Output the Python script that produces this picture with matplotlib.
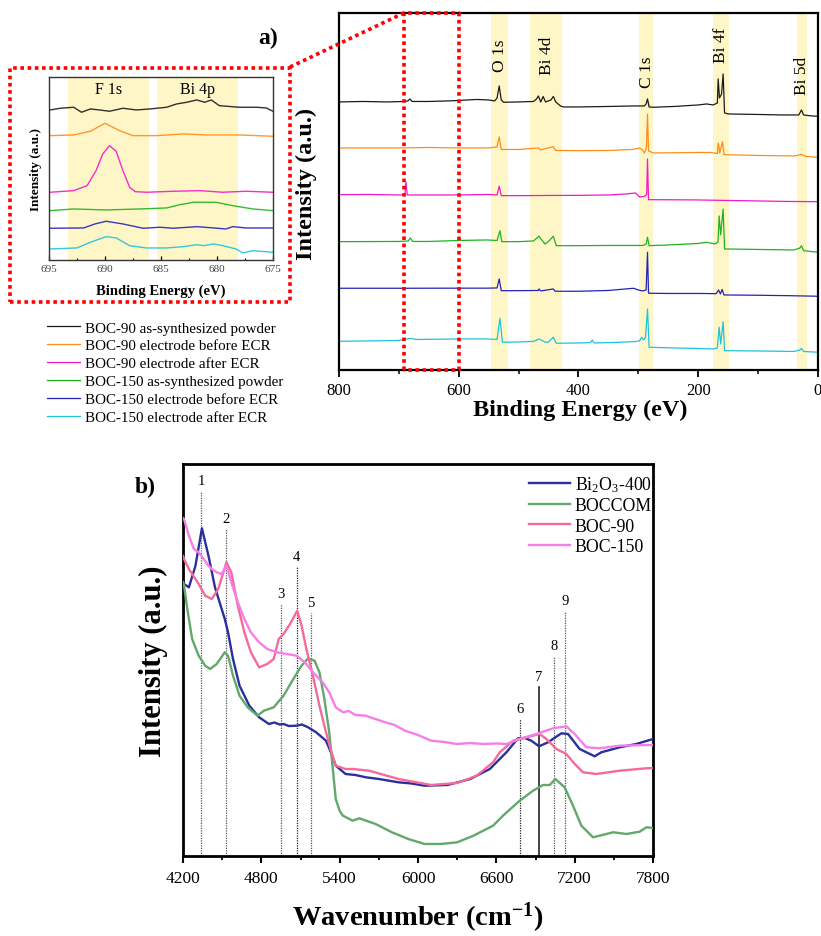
import matplotlib
matplotlib.use("Agg")
import matplotlib.pyplot as plt
from matplotlib.lines import Line2D
from matplotlib.patches import Rectangle
from matplotlib.ticker import MultipleLocator

plt.rcParams['font.family'] = ['Liberation Serif', 'DejaVu Serif']
plt.rcParams['mathtext.fontset'] = 'custom'
plt.rcParams['mathtext.rm'] = 'Liberation Serif'
plt.rcParams['mathtext.it'] = 'Liberation Serif:italic'
plt.rcParams['mathtext.bf'] = 'Liberation Serif:bold'

# ---------------- (a) XPS survey spectra ----------------
survey_labels = ["BOC-90 as-synthesized powder", "BOC-90 electrode before ECR",
                 "BOC-90 electrode after ECR", "BOC-150 as-synthesized powder",
                 "BOC-150 electrode before ECR", "BOC-150 electrode after ECR"]
survey_colors = ["#1a1a1a", "#ff8c1a", "#f019c8", "#1eb41e", "#2323b4", "#1ec3dc"]

boc90_powder_be = [800, 760, 720, 690, 685, 681.5, 678, 650, 620, 600, 570, 550, 540, 536, 532.4,
                   529, 525, 500, 475, 470, 467, 463, 459, 455, 446, 442, 438, 430, 425, 400,
                   350, 310, 290, 287, 284.7, 282, 275, 240, 200, 186, 175, 168, 166.7, 164.5,
                   161, 158.4, 156, 150, 100, 60, 32, 27.6, 24, 10, 0]
boc90_powder_int = [268, 268.5, 268, 268.5, 269, 271, 268.5, 268.5, 269, 269.5, 270.5, 270, 269,
                    272, 284, 270, 267.7, 268, 268.5, 271, 274, 268, 273.5, 268, 270, 273.5, 268,
                    264, 263, 263, 263.5, 264, 264, 266, 271, 263, 262.7, 263.5, 265, 266, 265,
                    267, 291, 272, 276, 296, 257, 256, 255.5, 255, 255, 260, 255, 254, 253.7]

boc90_before_be = [800, 700, 650, 600, 550, 536, 532.4, 529, 500, 467, 464, 442, 438, 400, 350,
                   310, 298, 293, 290, 286.5, 284.7, 283, 275, 200, 180, 168, 166.5, 164, 159.5,
                   157, 100, 40, 27.6, 20, 0]
boc90_before_int = [222, 222, 222.5, 222, 222, 223, 233, 220.5, 220.5, 222, 220, 223.3, 219.5,
                    219.3, 219.5, 220.5, 222, 220, 217, 222, 256, 219, 217, 217.5, 217.5, 216.5,
                    227, 217, 228.3, 215.3, 214.5, 214, 215.5, 213.5, 212.7]

boc90_after_be = [800, 750, 700, 690, 688.1, 686, 650, 600, 550, 536, 532.4, 529, 500, 450, 400,
                  350, 320, 305, 298, 290, 286, 284.7, 283, 250, 200, 150, 100, 50, 0]
boc90_after_int = [175.3, 175.5, 175, 175, 188, 175, 175, 175, 175.5, 175, 183.7, 174.3, 174.3,
                   174.5, 174.6, 175, 176, 177, 173, 173.5, 175.5, 211, 170.3, 170.2, 170, 169.5,
                   169, 168.5, 168.3]

boc150_powder_be = [800, 700, 684, 681, 677, 650, 600, 553, 536, 531.2, 528, 500, 475, 466, 456,
                    451, 442, 437, 400, 350, 300, 292, 287, 284.7, 282, 250, 200, 186, 172, 167,
                    165, 162.5, 158.4, 156, 100, 40, 30, 27.6, 24, 0]
boc150_powder_int = [128.3, 128.5, 129, 132, 128.5, 128.5, 129.5, 130, 129.5, 139.3, 128.3, 128.3,
                     129, 133.7, 126, 128, 133.7, 124.3, 124.3, 124.5, 124.5, 124.5, 126, 132.7,
                     124.3, 125, 126.5, 127.7, 126, 128, 154, 135, 161, 121, 120.5, 120, 122,
                     124.3, 119.3, 117.7]

boc150_before_be = [800, 700, 600, 553, 536, 532.4, 529, 500, 467, 466, 463, 442, 439, 400, 350,
                    308, 300, 293, 287, 284.7, 283, 250, 200, 170, 166, 163, 160, 157, 100, 50, 0]
boc150_before_int = [81.7, 81.7, 81.8, 81.8, 82, 91, 79.3, 79.3, 79.5, 81, 79, 81, 78.7, 78.7,
                     79.5, 81.7, 80, 79, 80, 117.7, 76.7, 76.5, 76.5, 76.3, 80, 76, 80.5, 75,
                     74.7, 74.3, 73.7]

boc150_after_be = [800, 750, 700, 681, 670, 600, 553, 536, 531.2, 527, 500, 475, 466, 456, 451,
                   442, 437, 400, 380, 377, 374, 340, 308, 298, 294.7, 291, 288, 284.7, 282, 240,
                   200, 175, 168, 165, 162.5, 158.4, 156, 100, 40, 30, 27.6, 24, 0]
boc150_after_int = [28.7, 29, 29.5, 31.5, 30.5, 31, 31, 30.5, 51.7, 27.7, 28, 28.5, 31, 28, 27.5,
                    32.7, 26.7, 27, 27.3, 30, 27, 27.5, 28.3, 29, 32.7, 30, 33, 61, 22.7, 22,
                    21.5, 21, 22, 42.7, 26, 48.3, 19.3, 19, 18.5, 20, 21.7, 18.5, 17.7]

survey_be = [boc90_powder_be, boc90_before_be, boc90_after_be,
             boc150_powder_be, boc150_before_be, boc150_after_be]
survey_int = [boc90_powder_int, boc90_before_int, boc90_after_int,
              boc150_powder_int, boc150_before_int, boc150_after_int]

band_names = ["O 1s", "Bi 4d", "C 1s", "Bi 4f", "Bi 5d"]
band_ranges = [(546, 518), (481, 428), (299, 276), (176, 149), (35, 19)]
band_label_x = [531, 453, 286, 162, 27]
band_label_y = [299, 296, 283, 308, 276]

# F 1s / Bi 4p close-up
inset_be = {
    0: [694.9, 694.0, 692.8, 692.1, 691.3, 690.5, 689.6, 688.4, 687.2, 686.0, 684.5, 683.6,
        682.7, 681.8, 681.1, 680.5, 679.8, 678.0, 676.5, 675.6, 675.0],
    1: [694.9, 692.8, 691.3, 690.0, 688.7, 687.5, 685.4, 683.0, 680.9, 678.0, 675.0],
    2: [694.9, 692.8, 691.6, 690.8, 690.2, 689.6, 689.0, 688.4, 687.8, 687.3, 686.3, 683.9,
        681.5, 679.5, 677.4, 675.0],
    3: [694.9, 692.8, 689.9, 686.9, 684.5, 683.3, 682.1, 680.1, 678.6, 676.8, 675.0],
    4: [694.9, 691.9, 690.9, 689.9, 688.4, 686.6, 685.1, 683.9, 681.8, 680.3, 679.2, 678.6,
        677.4, 675.0],
    5: [694.9, 692.5, 691.3, 689.9, 689.0, 687.8, 686.3, 684.5, 683.0, 681.8, 681.2, 680.3,
        679.5, 678.3, 677.7, 676.8, 675.0],
}
inset_int = {
    0: [150, 151.7, 152.7, 147.7, 151, 150, 148.7, 151.7, 150, 151, 152.7, 156, 157.7, 160,
        157.7, 160, 154.3, 152.7, 152.7, 152, 148.7],
    1: [124.3, 125, 128.7, 136.7, 129.3, 124.3, 124.3, 126, 125, 125, 123.7],
    2: [67.7, 69.3, 74.3, 89.3, 106, 114.3, 108.7, 89.3, 72.7, 68.3, 67.7, 68.7, 69.3, 67.7,
        68.7, 67.7],
    3: [49.3, 51, 50, 51, 52, 55.3, 57.7, 57.7, 54.3, 51, 49.3],
    4: [31.7, 32, 36, 38.7, 36, 31.7, 32.7, 31.7, 33.3, 32, 31, 33.3, 32, 32],
    5: [11, 12, 17.7, 23.3, 22, 14.3, 12, 12, 13.3, 15.3, 14.3, 16, 14.3, 11, 7, 9.3, 7.7],
}
inset_bands = [(693.3, 686.1), (685.4, 678.1)]
inset_band_names = ["F 1s", "Bi 4p"]
inset_band_label_x = [689.7, 681.7]

# ---------------- (b) NIR spectra ----------------
nir_labels = ["Bi$_2$O$_3$-400", "BOCCOM", "BOC-90", "BOC-150"]
nir_colors = ["#2b2f9c", "#62a86a", "#f56a9c", "#f57ee8"]

bi2o3_wn = [4200, 4208, 4245, 4295, 4345, 4395, 4445, 4520, 4545, 4583, 4633, 4708, 4783, 4858,
            4900, 4940, 4970, 5010, 5070, 5110, 5158, 5220, 5295, 5333, 5370, 5445, 5520, 5600,
            5700, 5850, 5950, 6050, 6225, 6400, 6550, 6677, 6766, 6817, 6868, 6927, 6996, 7098,
            7149, 7238, 7353, 7404, 7545, 7672, 7800]
bi2o3_int = [273, 272, 268.7, 290, 327.7, 300.3, 268.7, 237, 223.7, 197, 170.3, 150.3, 138.7, 132,
             133.5, 131.5, 132, 130, 130.3, 131.5, 128.7, 123.7, 115.3, 103.7, 90.3, 82, 81, 78.7,
             77, 73.7, 72.5, 70.3, 71, 77, 87, 103.7, 117.7, 118, 115.3, 109.7, 113.7, 122.7,
             122, 107, 99.7, 103.7, 108.7, 112, 117]

boccom_wn = [4200, 4208, 4233, 4270, 4320, 4370, 4408, 4458, 4520, 4545, 4583, 4633, 4695, 4770,
             4820, 4895, 4970, 5045, 5108, 5158, 5208, 5245, 5283, 5320, 5345, 5370, 5400, 5425,
             5500, 5550, 5675, 5800, 5925, 6050, 6175, 6300, 6425, 6575, 6651, 6779, 6881, 6958,
             7009, 7052, 7123, 7187, 7251, 7340, 7391, 7494, 7596, 7698, 7749, 7800]
boccom_int = [274, 270.3, 247, 217, 200.3, 190.3, 187, 192, 203.7, 200.3, 180.3, 160.3, 148.7,
              140.3, 145.3, 148.7, 160.3, 177, 190.3, 197.7, 195.3, 183.7, 157, 123.7, 90.3, 57,
              45, 40.3, 35.3, 37.7, 32, 23.7, 17, 12, 12, 13.7, 20.3, 30.3, 40.3, 55.3, 65.3, 71,
              71, 77, 68.7, 50.3, 30.3, 18.7, 20.3, 23.7, 22, 24.3, 28.7, 28]

boc90_wn = [4200, 4208, 4245, 4320, 4370, 4420, 4470, 4533, 4570, 4620, 4670, 4720, 4783, 4845,
            4895, 4933, 4970, 5020, 5075, 5108, 5145, 5195, 5245, 5295, 5345, 5370, 5445, 5500,
            5625, 5850, 6100, 6300, 6450, 6575, 6626, 6728, 6830, 6932, 6983, 7060, 7136, 7200,
            7264, 7366, 7545, 7749, 7800]
boc90_int = [300, 297, 287, 272, 260.3, 257, 267, 293.7, 283.7, 250.3, 223.7, 203.7, 188.7, 192,
             197, 217, 222, 232, 245.3, 230.3, 207, 180.3, 150.3, 123.7, 100.3, 90.3, 87, 87,
             85.3, 77, 71, 73, 80.3, 93.7, 103.7, 115.3, 118.7, 122, 117, 107, 102, 92, 83.7,
             82, 85.3, 87.7, 88]

boc150_wn = [4200, 4208, 4245, 4283, 4320, 4358, 4395, 4420, 4458, 4495, 4533, 4570, 4620, 4670,
             4720, 4783, 4845, 4920, 4995, 5070, 5133, 5195, 5270, 5320, 5370, 5425, 5470, 5520,
             5600, 5650, 5750, 5820, 5900, 6000, 6100, 6200, 6300, 6400, 6500, 6600, 6677, 6779,
             6906, 7034, 7136, 7200, 7289, 7391, 7545, 7749, 7800]
boc150_int = [338, 337, 320.3, 307, 303.7, 297, 290.3, 287, 283.7, 282, 290.3, 273.7, 253.7, 237,
              223.7, 213.7, 207, 203.7, 202, 200.3, 193.7, 183.7, 173.7, 163.7, 148.7, 143.7,
              145, 141, 140.3, 138, 133.7, 131, 125.3, 121, 115.3, 114, 112, 113, 112, 112.5,
              112, 117, 122, 127.7, 129.7, 122, 108.7, 107.7, 110.3, 111, 111]

nir_wn = [bi2o3_wn, boccom_wn, boc90_wn, boc150_wn]
nir_int = [bi2o3_int, boccom_int, boc90_int, boc150_int]

mark_names = ["1", "2", "3", "4", "5", "6", "7", "8", "9"]
mark_wn = [4340, 4530, 4950, 5070, 5180, 6780, 6925, 7045, 7125]
mark_top = [365, 327, 252, 289, 243, 137, 169, 200, 245]

# ---------------- figure ----------------
fig = plt.figure(figsize=(8.21, 9.37), dpi=100)

# survey panel
ax = fig.add_axes([0.4129, 0.6041, 0.5834, 0.381])
for lo, hi in band_ranges:
    ax.axvspan(lo, hi, color="#fff6c8", zorder=0, lw=0)
main_lines = []
for be, it, col, lab in zip(survey_be, survey_int, survey_colors, survey_labels):
    ln, = ax.plot(be, it, color=col, lw=0.9, label=lab, zorder=2)
    main_lines.append(ln)
for name, bx, by in zip(band_names, band_label_x, band_label_y):
    ax.text(bx, by, name, rotation=90, ha="center", va="bottom", fontsize=12.5)
ax.plot([692, 692, 600, 600, 692], [0, 357, 357, 0, 0], color="red", lw=2.6,
        ls=(0, (1, 1)), clip_on=False, zorder=6)
ax.set_xlim(800, 0)
ax.set_ylim(0, 357)
ax.set_yticks([])
ax.xaxis.set_major_locator(MultipleLocator(200))
ax.xaxis.set_minor_locator(MultipleLocator(100))
ax.tick_params(axis="x", which="major", direction="out", length=5, width=1.3, labelsize=12, pad=4)
ax.tick_params(axis="x", which="minor", direction="out", length=3, width=1.1)
for sp in ax.spines.values():
    sp.set_linewidth(1.6)
ax.set_xlabel("Binding Energy (eV)", fontsize=17.5, fontweight="bold")
ax.xaxis.set_label_coords(0.503, -0.08)
ax.set_ylabel("Intensity (a.u.)", fontsize=17.5, fontweight="bold")
ax.yaxis.set_label_coords(-0.045, 0.525)

# close-up panel
axi = fig.add_axes([0.0597, 0.7215, 0.2728, 0.1953])
for lo, hi in inset_bands:
    axi.axvspan(lo, hi, color="#fff6c8", zorder=0, lw=0)
for k, col in enumerate(survey_colors):
    axi.plot(inset_be[k], inset_int[k], color=col, lw=1.0, alpha=0.9)
for name, bx in zip(inset_band_names, inset_band_label_x):
    axi.text(bx, 171, name, ha="center", va="center", fontsize=11.5)
axi.set_xlim(695, 675)
axi.set_ylim(0, 183)
axi.set_yticks([])
axi.xaxis.set_major_locator(MultipleLocator(5))
axi.xaxis.set_minor_locator(MultipleLocator(2.5))
axi.tick_params(axis="x", which="major", direction="in", length=3, width=0.9, labelsize=8,
                labelcolor="#444444", pad=3)
axi.tick_params(axis="x", which="minor", direction="in", length=1.8, width=0.8)
for sp in axi.spines.values():
    sp.set_linewidth(1.0)
    sp.set_color("#333333")
axi.set_xlabel("Binding Energy (eV)", fontsize=10.5, fontweight="bold")
axi.xaxis.set_label_coords(0.5, -0.13)
axi.set_ylabel("Intensity (a.u.)", fontsize=9.5, fontweight="bold")
axi.yaxis.set_label_coords(-0.03, 0.5)

# red dotted frame around the close-up and the connector to the boxed range
fig.add_artist(Rectangle((0.0122, 0.6766), 0.341, 0.2498, transform=fig.transFigure,
                         fill=False, ec="red", lw=2.6, ls=(0, (1, 1))))
fig.add_artist(Line2D([0.3532, 0.4921], [0.9274, 0.9851], transform=fig.transFigure,
                      color="red", lw=2.6, ls=(0, (1, 1))))

fig.legend(handles=main_lines, labels=survey_labels, loc="upper left",
           bbox_to_anchor=(47 / 821, 1 - 322 / 937), frameon=False, fontsize=10.8,
           handlelength=2.2, handletextpad=0.35, labelspacing=0.29, borderpad=0,
           borderaxespad=0)

fig.text(268 / 821, 1 - 38 / 937, "a)", fontsize=17, fontweight="bold", ha="center", va="center")

# NIR panel
axb = fig.add_axes([0.2229, 0.0854, 0.5725, 0.4183])
for k, (pos, top, name) in enumerate(zip(mark_wn, mark_top, mark_names)):
    if name == "7":
        axb.plot([pos, pos], [0, top], color="#222222", lw=1.2, zorder=1)
    else:
        dark = name in ("4", "6")
        axb.plot([pos, pos], [0, top], color="#222222" if dark else "#555555",
                 lw=0.9, ls=(0, (1, 1)), zorder=1)
    axb.text(pos, top + 4, name, ha="center", va="bottom", fontsize=10.5)
for wn, it, col, lab in zip(nir_wn, nir_int, nir_colors, nir_labels):
    axb.plot(wn, it, color=col, lw=1.7, label=lab, zorder=3)
axb.set_xlim(4200, 7800)
axb.set_ylim(0, 392)
axb.set_yticks([])
axb.xaxis.set_major_locator(MultipleLocator(600))
axb.xaxis.set_minor_locator(MultipleLocator(300))
axb.tick_params(axis="x", which="major", direction="out", length=5, width=1.5, labelsize=12.5, pad=5)
axb.tick_params(axis="x", which="minor", direction="out", length=3, width=1.3)
for sp in axb.spines.values():
    sp.set_linewidth(2.0)
axb.set_xlabel("Wavenumber (cm$^{\\mathbf{-1}}$)", fontsize=20.5, fontweight="bold")
axb.xaxis.set_label_coords(0.5, -0.112)
axb.set_ylabel("Intensity (a.u.)", fontsize=22, fontweight="bold")
axb.yaxis.set_label_coords(-0.032, 0.5)
axb.legend(loc="upper right", bbox_to_anchor=(0.998, 0.975), frameon=False, fontsize=12.8,
           handlelength=2.3, handletextpad=0.28, labelspacing=0.2, borderpad=0, borderaxespad=0)

fig.text(145 / 821, 1 - 487 / 937, "b)", fontsize=17, fontweight="bold", ha="center", va="center")

fig.savefig("out.png", dpi=100)
